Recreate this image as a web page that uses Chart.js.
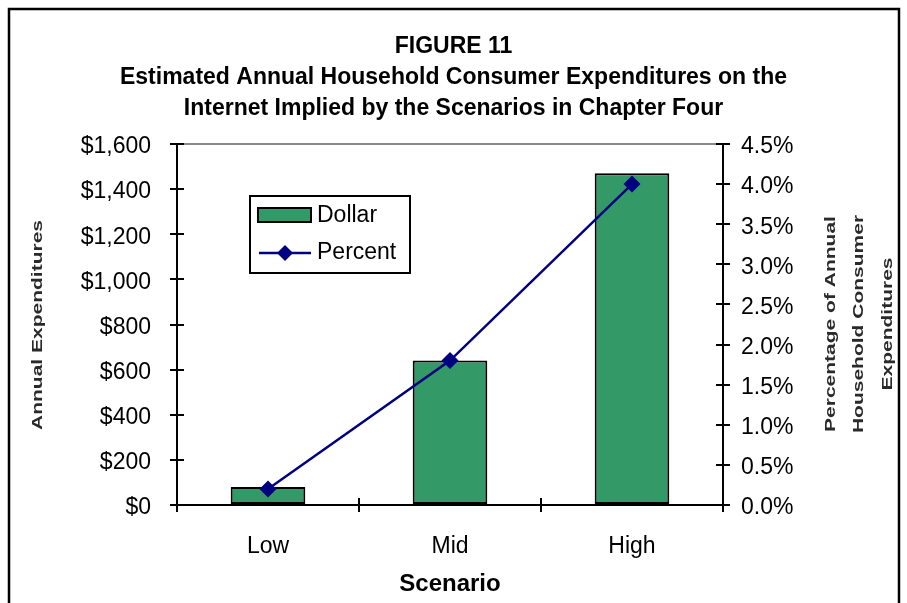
<!DOCTYPE html>
<html>
<head>
<meta charset="utf-8">
<title>Figure 11</title>
<script src="https://cdn.jsdelivr.net/npm/chart.js@4"></script>
<style>
  html, body { margin: 0; padding: 0; background: #fff; }
  #wrap { width: 907px; height: 603px; }
</style>
</head>
<body>
<div id="wrap"><canvas id="fig11" width="907" height="603"></canvas></div>
<script>
// Data
const scenarios = ['Low', 'Mid', 'High'];
const dollarValues = [80, 640, 1470];
const percentValues = [0.2, 1.8, 4.0];

const titleLines = [
    'FIGURE 11',
    'Estimated Annual Household Consumer Expenditures on the',
    'Internet Implied by the Scenarios in Chapter Four'
];
const leftTitle = ['Annual Expenditures'];
const rightTitle = ['Percentage of Annual', 'Household Consumer', 'Expenditures'];

const GREEN = '#339966';
const NAVY = '#000080';
const FONT = 'Arial, "Liberation Sans", sans-serif';

// Outer frame around the figure
const framePlugin = {
    id: 'frame',
    beforeDraw(chart) {
        const c = chart.ctx;
        c.save();
        c.fillStyle = '#fff';
        c.fillRect(0, 0, chart.width, chart.height);
        c.strokeStyle = '#000';
        c.lineWidth = 2.5;
        c.strokeRect(9, 9, 890, 640);
        c.restore();
    }
};

// Tick marks that cross the axis lines, like the old spreadsheet chart
const crossTicks = {
    id: 'crossTicks',
    afterDraw(chart) {
        const c = chart.ctx;
        const area = chart.chartArea;
        c.save();
        c.strokeStyle = '#000';
        c.lineWidth = 2;
        c.beginPath();
        ['y', 'y1'].forEach(id => {
            const s = chart.scales[id];
            const x = id === 'y' ? area.left : area.right;
            s.ticks.forEach(t => {
                const py = Math.round(s.getPixelForValue(t.value));
                c.moveTo(x - 7, py);
                c.lineTo(x + 7, py);
            });
        });
        const xs = chart.scales.x;
        const step = (area.right - area.left) / scenarios.length;
        for (let i = 0; i <= scenarios.length; i++) {
            const px = Math.round(xs.getPixelForValue(0) - step / 2 + i * step);
            c.moveTo(px, area.bottom - 7);
            c.lineTo(px, area.bottom + 7);
        }
        c.stroke();
        c.restore();
    }
};

// Rotated axis titles (squeezed look of the original)
function drawRotated(c, lines, cx, cy, gap) {
    c.save();
    c.translate(cx, cy);
    c.rotate(-Math.PI / 2);
    c.scale(1, 0.74);
    c.font = 'bold 21px ' + FONT;
    c.fillStyle = '#2a2a2a';
    c.textAlign = 'center';
    c.textBaseline = 'middle';
    lines.forEach((ln, i) => {
        const off = (i - (lines.length - 1) / 2) * gap / 0.74;
        c.fillText(ln, 0, off);
    });
    c.restore();
}

const sideTitles = {
    id: 'sideTitles',
    afterDraw(chart) {
        const c = chart.ctx;
        drawRotated(c, leftTitle, 38, 325, 0);
        drawRotated(c, rightTitle, 859, 324, 28.5);
    }
};

// Legend box inside the plot
const boxLegend = {
    id: 'boxLegend',
    afterDraw(chart) {
        const c = chart.ctx;
        const a = chart.chartArea;
        const x0 = a.left + 73, y0 = a.top + 52;
        const w = 160, h = 77;
        const bars = chart.data.datasets.find(d => d.type === 'bar');
        const line = chart.data.datasets.find(d => d.type === 'line');
        c.save();
        c.fillStyle = '#fff';
        c.fillRect(x0, y0, w, h);
        c.strokeStyle = '#000';
        c.lineWidth = 2;
        c.strokeRect(x0, y0, w, h);

        // Dollar swatch
        c.fillStyle = bars.backgroundColor;
        c.fillRect(x0 + 8, y0 + 12, 53, 14);
        c.strokeRect(x0 + 8, y0 + 12, 53, 14);

        // Percent line with diamond
        const ly = y0 + 57;
        c.strokeStyle = line.borderColor;
        c.lineWidth = 2.5;
        c.beginPath();
        c.moveTo(x0 + 9, ly);
        c.lineTo(x0 + 61, ly);
        c.stroke();
        c.fillStyle = line.borderColor;
        c.beginPath();
        c.moveTo(x0 + 35, ly - 8);
        c.lineTo(x0 + 43, ly);
        c.lineTo(x0 + 35, ly + 8);
        c.lineTo(x0 + 27, ly);
        c.closePath();
        c.fill();

        c.fillStyle = '#000';
        c.font = '23px ' + FONT;
        c.textAlign = 'left';
        c.textBaseline = 'middle';
        c.fillText(bars.label, x0 + 67, y0 + 20);
        c.fillText(line.label, x0 + 67, ly);
        c.restore();
    }
};

const ctx = document.getElementById('fig11').getContext('2d');

new Chart(ctx, {
    data: {
        labels: scenarios,
        datasets: [
            {
                type: 'line',
                label: 'Percent',
                data: percentValues,
                yAxisID: 'y1',
                borderColor: NAVY,
                backgroundColor: NAVY,
                borderWidth: 2.5,
                pointStyle: 'rectRot',
                pointRadius: 8.5,
                pointBackgroundColor: NAVY,
                pointBorderWidth: 0,
                tension: 0,
                order: 0
            },
            {
                type: 'bar',
                label: 'Dollar',
                data: dollarValues,
                yAxisID: 'y',
                backgroundColor: GREEN,
                borderColor: '#000',
                borderWidth: 2,
                borderSkipped: false,
                barPercentage: 0.41,
                categoryPercentage: 1,
                order: 1
            }
        ]
    },
    options: {
        responsive: false,
        animation: false,
        layout: { padding: 0 },
        plugins: {
            legend: { display: false },
            tooltip: { enabled: false },
            title: {
                display: true,
                text: titleLines,
                color: '#000',
                font: { family: FONT, size: 23, weight: 'bold', lineHeight: 31 / 23 },
                padding: { top: 31.5, bottom: 19.5 }
            }
        },
        scales: {
            x: {
                position: 'bottom',
                offset: true,
                grid: { display: false, drawTicks: false },
                border: { color: '#000', width: 2 },
                ticks: { color: '#000', font: { family: FONT, size: 23 }, padding: 28 },
                title: {
                    display: true,
                    text: 'Scenario',
                    color: '#000',
                    font: { family: FONT, size: 24, weight: 'bold' },
                    padding: { top: 0, bottom: 4 }
                },
                afterFit(s) { s.height = 98; }
            },
            y: {
                position: 'left',
                min: 0,
                max: 1600,
                ticks: {
                    stepSize: 200,
                    color: '#000',
                    font: { family: FONT, size: 23 },
                    padding: 26,
                    labelOffset: 3,
                    callback: v => '$' + v.toLocaleString('en-US')
                },
                grid: {
                    drawTicks: false,
                    color: c => (c.tick && c.tick.value === 1600 ? '#888' : 'rgba(0,0,0,0)'),
                    lineWidth: 2
                },
                border: { color: '#000', width: 2 },
                afterFit(s) { s.width = 177; }
            },
            y1: {
                position: 'right',
                min: 0,
                max: 4.5,
                ticks: {
                    stepSize: 0.5,
                    color: '#000',
                    font: { family: FONT, size: 23 },
                    padding: 18,
                    labelOffset: 3,
                    callback: v => v.toFixed(1) + '%'
                },
                grid: { drawOnChartArea: false, drawTicks: false },
                border: { color: '#000', width: 2 },
                afterFit(s) { s.width = 184; }
            }
        }
    },
    plugins: [framePlugin, crossTicks, sideTitles, boxLegend]
});
</script>
</body>
</html>
